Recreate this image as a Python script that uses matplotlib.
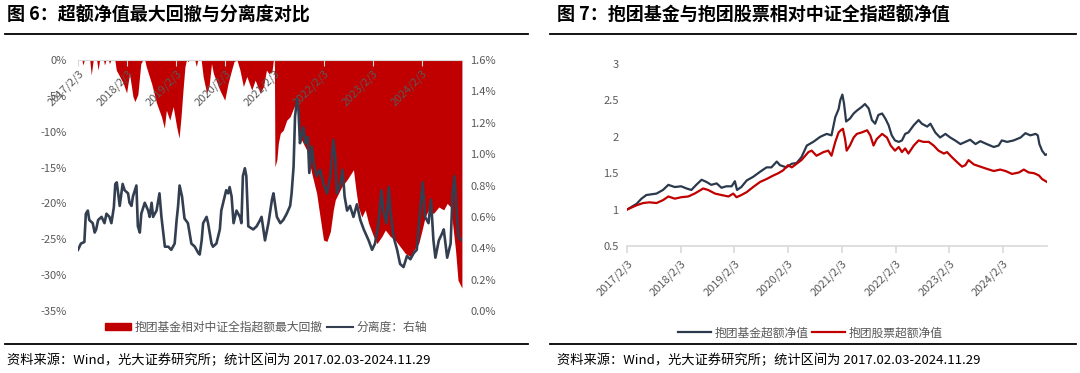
import matplotlib
matplotlib.use("Agg")
import matplotlib.pyplot as plt
from matplotlib.patches import Patch
from matplotlib.lines import Line2D
from matplotlib.ticker import FuncFormatter, MultipleLocator
import pandas as pd

plt.rcParams['font.family'] = ['Noto Sans CJK SC', 'DejaVu Sans']
plt.rcParams['axes.unicode_minus'] = False

# ---- 图6 数据：超额最大回撤(%)，时间为小数年 ----
dd_t = [2017.09, 2017.17, 2017.19, 2017.22, 2017.33, 2017.36, 2017.40, 2017.47, 2017.50, 2017.53,
        2017.61, 2017.63, 2017.66, 2017.71, 2017.73, 2017.76, 2017.84, 2017.87, 2017.94, 2018.01,
        2018.08, 2018.14, 2018.21, 2018.25, 2018.31, 2018.37, 2018.41, 2018.45, 2018.48, 2018.59,
        2018.69, 2018.79, 2018.85, 2018.89, 2018.96, 2019.03, 2019.10, 2019.15, 2019.19, 2019.23,
        2019.27, 2019.30, 2019.33, 2019.36, 2019.47, 2019.50, 2019.53, 2019.60, 2019.64, 2019.71,
        2019.76, 2019.81, 2019.85, 2019.98, 2020.08, 2020.15, 2020.22, 2020.27, 2020.33, 2020.39,
        2020.46, 2020.53, 2020.63, 2020.70, 2020.80, 2020.87, 2020.93, 2020.98, 2021.04, 2021.07,
        2021.09, 2021.10, 2021.14, 2021.17, 2021.21, 2021.27, 2021.34, 2021.41, 2021.48, 2021.55,
        2021.61, 2021.75, 2021.85, 2021.95, 2021.99, 2022.06, 2022.09, 2022.16, 2022.23, 2022.29,
        2022.33, 2022.46, 2022.57, 2022.70, 2022.75, 2022.80, 2022.87, 2022.94, 2023.01, 2023.11,
        2023.18, 2023.28, 2023.35, 2023.45, 2023.55, 2023.65, 2023.76, 2023.86, 2023.93, 2024.03,
        2024.10, 2024.16, 2024.23, 2024.33, 2024.44, 2024.54, 2024.61, 2024.68, 2024.72, 2024.78,
        2024.83, 2024.91]
dd_v = [0, 0, -0.7, 0, 0, -2.1, 0, 0, -1.4, 0,
        0, -0.7, 0, 0, -0.5, 0, 0, -1.4, -2.3, -3.2,
        -4.6, -1.9, -5.1, -5.8, -4.8, -0.5, 0, 0, -0.9, -3.3,
        -6.0, -7.9, -9.5, -7.0, -8.4, -6.5, -9.3, -10.9, -7.9, -4.2,
        -0.9, 0, -0.2, 0, 0, -0.9, 0, 0, -2.3, -4.6,
        -3.7, -0.5, -1.9, -4.2, -5.6, -3.2, -1.4, -0.2, 0, -1.4,
        -3.7, -2.3, -4.2, -2.8, -4.6, -3.7, -1.4, -1.9, -1.6, 0,
        0, -14.9, -13.9, -11.6, -10.2, -9.8, -8.4, -7.9, -6.7, -5.6,
        -10.7, -12.6, -15.8, -18.6, -20.5, -23.7, -25.1, -25.3, -23.9, -20.9,
        -19.5, -17.7, -16.7, -15.3, -18.1, -20.5, -21.9, -20.9, -22.8, -24.6,
        -25.6, -24.6, -23.7, -24.6, -25.1, -26.0, -27.0, -27.4, -26.5, -25.6,
        -23.7, -21.9, -20.9, -21.4, -20.5, -20.9, -20.0, -20.5, -22.8, -26.5,
        -30.7, -31.8]

# 分离度(%)
sep_t = [2017.09, 2017.15, 2017.22, 2017.25, 2017.29, 2017.32, 2017.39, 2017.43, 2017.46, 2017.50,
         2017.57, 2017.63, 2017.67, 2017.73, 2017.77, 2017.82, 2017.85, 2017.88, 2017.94, 2018.00,
         2018.04, 2018.11, 2018.14, 2018.18, 2018.21, 2018.28, 2018.31, 2018.35, 2018.38, 2018.45,
         2018.52, 2018.55, 2018.59, 2018.62, 2018.69, 2018.75, 2018.79, 2018.86, 2018.93, 2018.99,
         2019.06, 2019.10, 2019.13, 2019.16, 2019.21, 2019.26, 2019.33, 2019.40, 2019.47, 2019.54,
         2019.57, 2019.61, 2019.64, 2019.71, 2019.74, 2019.81, 2019.84, 2019.91, 2019.98, 2020.01,
         2020.08, 2020.11, 2020.15, 2020.18, 2020.22, 2020.26, 2020.32, 2020.39, 2020.42, 2020.45,
         2020.49, 2020.52, 2020.56, 2020.66, 2020.73, 2020.80, 2020.83, 2020.90, 2020.97, 2021.04,
         2021.07, 2021.14, 2021.21, 2021.27, 2021.34, 2021.41, 2021.44, 2021.48, 2021.51, 2021.55,
         2021.58, 2021.61, 2021.65, 2021.68, 2021.72, 2021.77, 2021.80, 2021.85, 2021.89, 2021.95,
         2022.02, 2022.09, 2022.16, 2022.23, 2022.29, 2022.33, 2022.36, 2022.43, 2022.48, 2022.52,
         2022.57, 2022.63, 2022.70, 2022.77, 2022.84, 2022.91, 2023.01, 2023.08, 2023.14, 2023.21,
         2023.27, 2023.31, 2023.37, 2023.42, 2023.45, 2023.52, 2023.59, 2023.65, 2023.72, 2023.79,
         2023.86, 2023.93, 2023.99, 2024.06, 2024.11, 2024.16, 2024.23, 2024.28, 2024.33, 2024.37,
         2024.44, 2024.50, 2024.54, 2024.61, 2024.68, 2024.72, 2024.76, 2024.80, 2024.84, 2024.91]
sep_v = [0.39, 0.43, 0.44, 0.62, 0.64, 0.58, 0.56, 0.50, 0.52, 0.58,
         0.60, 0.56, 0.62, 0.60, 0.56, 0.66, 0.81, 0.82, 0.67, 0.81,
         0.77, 0.75, 0.69, 0.67, 0.73, 0.80, 0.54, 0.50, 0.62, 0.69,
         0.64, 0.60, 0.69, 0.60, 0.64, 0.75, 0.60, 0.41, 0.41, 0.39,
         0.43, 0.58, 0.67, 0.80, 0.73, 0.59, 0.56, 0.43, 0.41, 0.37,
         0.36, 0.45, 0.56, 0.60, 0.56, 0.43, 0.41, 0.43, 0.52, 0.64,
         0.73, 0.77, 0.75, 0.79, 0.73, 0.56, 0.64, 0.60, 0.56, 0.86,
         0.91, 0.86, 0.54, 0.52, 0.54, 0.58, 0.60, 0.45, 0.56, 0.71,
         0.75, 0.60, 0.56, 0.58, 0.62, 0.67, 0.75, 0.92, 1.24, 1.35,
         1.28, 1.07, 1.13, 1.17, 1.07, 1.11, 0.88, 1.05, 0.94, 0.86,
         0.90, 0.81, 0.75, 0.86, 1.09, 0.98, 0.75, 0.81, 0.90, 0.73,
         0.64, 0.67, 0.60, 0.68, 0.58, 0.52, 0.45, 0.39, 0.43, 0.56,
         0.77, 0.64, 0.56, 0.79, 0.64, 0.47, 0.39, 0.30, 0.28, 0.35,
         0.33, 0.37, 0.39, 0.64, 0.82, 0.60, 0.56, 0.71, 0.45, 0.34,
         0.45, 0.49, 0.52, 0.34, 0.43, 0.75, 0.86, 0.64, 0.47, 0.45]

# ---- 图7 数据：超额净值 ----
fund_t = [2017.09, 2017.27, 2017.36, 2017.45, 2017.64, 2017.76, 2017.86, 2017.98, 2018.10, 2018.20,
          2018.29, 2018.38, 2018.48, 2018.57, 2018.66, 2018.76, 2018.85, 2018.94, 2019.04, 2019.10,
          2019.14, 2019.22, 2019.32, 2019.44, 2019.57, 2019.69, 2019.78, 2019.88, 2019.94, 2020.06,
          2020.16, 2020.25, 2020.34, 2020.44, 2020.56, 2020.69, 2020.81, 2020.90, 2020.97, 2021.03,
          2021.06, 2021.10, 2021.13, 2021.17, 2021.24, 2021.31, 2021.37, 2021.46, 2021.52, 2021.59,
          2021.65, 2021.71, 2021.77, 2021.84, 2021.90, 2021.96, 2022.02, 2022.08, 2022.15, 2022.21,
          2022.27, 2022.33, 2022.43, 2022.52, 2022.58, 2022.68, 2022.74, 2022.83, 2022.92, 2023.02,
          2023.11, 2023.20, 2023.30, 2023.39, 2023.48, 2023.58, 2023.67, 2023.79, 2023.92, 2024.01,
          2024.07, 2024.17, 2024.29, 2024.42, 2024.51, 2024.60, 2024.70, 2024.74, 2024.77, 2024.82,
          2024.88, 2024.91]
fund_v = [1.00, 1.08, 1.15, 1.20, 1.22, 1.27, 1.34, 1.31, 1.32, 1.29,
          1.27, 1.34, 1.41, 1.38, 1.34, 1.36, 1.30, 1.32, 1.32, 1.39,
          1.27, 1.31, 1.40, 1.45, 1.52, 1.58, 1.58, 1.66, 1.61, 1.58,
          1.63, 1.64, 1.72, 1.88, 1.93, 2.00, 2.04, 2.02, 2.27, 2.38,
          2.50, 2.58, 2.46, 2.21, 2.25, 2.32, 2.36, 2.41, 2.45, 2.39,
          2.23, 2.18, 2.30, 2.32, 2.25, 2.16, 2.02, 1.95, 1.93, 1.95,
          2.04, 2.06, 2.16, 2.23, 2.18, 2.14, 2.18, 2.06, 1.99, 2.04,
          1.99, 1.95, 1.90, 1.93, 1.96, 1.90, 1.94, 1.90, 1.86, 1.88,
          1.95, 1.93, 1.95, 1.99, 2.05, 2.02, 2.04, 2.02, 1.90, 1.81,
          1.75, 1.76]

stock_t = [2017.09, 2017.27, 2017.39, 2017.51, 2017.64, 2017.76, 2017.86, 2017.98, 2018.10, 2018.23,
           2018.35, 2018.51, 2018.60, 2018.73, 2018.85, 2018.98, 2019.07, 2019.13, 2019.22, 2019.32,
           2019.44, 2019.57, 2019.69, 2019.82, 2019.91, 2020.00, 2020.09, 2020.16, 2020.25, 2020.34,
           2020.47, 2020.53, 2020.62, 2020.75, 2020.84, 2020.90, 2020.97, 2021.03, 2021.07, 2021.11,
           2021.15, 2021.18, 2021.24, 2021.31, 2021.37, 2021.46, 2021.56, 2021.62, 2021.68, 2021.74,
           2021.84, 2021.93, 2022.00, 2022.08, 2022.15, 2022.21, 2022.27, 2022.33, 2022.43, 2022.52,
           2022.61, 2022.71, 2022.80, 2022.89, 2022.99, 2023.05, 2023.14, 2023.24, 2023.33, 2023.39,
           2023.45, 2023.55, 2023.67, 2023.79, 2023.92, 2024.04, 2024.14, 2024.26, 2024.39, 2024.48,
           2024.57, 2024.67, 2024.76, 2024.82, 2024.91]
stock_v = [1.00, 1.06, 1.09, 1.10, 1.09, 1.13, 1.18, 1.15, 1.17, 1.18,
           1.22, 1.29, 1.27, 1.22, 1.20, 1.18, 1.22, 1.17, 1.20, 1.24,
           1.31, 1.38, 1.42, 1.47, 1.50, 1.54, 1.61, 1.58, 1.63, 1.68,
           1.79, 1.81, 1.74, 1.79, 1.81, 1.74, 1.93, 2.06, 2.09, 2.11,
           1.97, 1.81, 1.88, 1.99, 2.04, 2.06, 2.09, 2.02, 1.88, 1.97,
           2.04, 1.99, 1.88, 1.81, 1.86, 1.79, 1.84, 1.77, 1.88, 1.95,
           1.93, 1.93, 1.88, 1.81, 1.77, 1.79, 1.72, 1.65, 1.59, 1.61,
           1.68, 1.62, 1.59, 1.56, 1.53, 1.55, 1.53, 1.49, 1.51, 1.55,
           1.51, 1.50, 1.47, 1.42, 1.38]

tick_dates = ['2017-02-03', '2018-02-03', '2019-02-03', '2020-02-03',
              '2021-02-03', '2022-02-03', '2023-02-03', '2024-02-03']
tick_labels = ['2017/2/3', '2018/2/3', '2019/2/3', '2020/2/3',
               '2021/2/3', '2022/2/3', '2023/2/3', '2024/2/3']
dd_labels = ['抱团基金相对中证全指超额最大回撤', '分离度：右轴']
nv_labels = ['抱团基金超额净值', '抱团股票超额净值']
start, end = pd.Timestamp('2017-02-03'), pd.Timestamp('2024-11-29')

RED = '#C00000'
NAVY = '#2B394D'
SLATE = '#333F50'
GRAY = '#595959'
LIGHT = '#d9d9d9'


def to_dates(ts):
    out = []
    for t in ts:
        y = int(t)
        out.append(pd.Timestamp(y, 1, 1) + pd.Timedelta(days=(t - y) * 365.25))
    return out


fig = plt.figure(figsize=(10.8, 3.73), dpi=100)

# 标题、分隔线、资料来源
fig.text(7 / 1080, 1 - 15 / 373, '图 6：超额净值最大回撤与分离度对比', fontsize=13, fontweight='bold', va='center')
fig.text(557 / 1080, 1 - 15 / 373, '图 7：抱团基金与抱团股票相对中证全指超额净值', fontsize=13, fontweight='bold', va='center')
for x0, x1 in [(5, 528), (550, 1076)]:
    for yy in (33.5, 344):
        fig.add_artist(Line2D([x0 / 1080, x1 / 1080], [1 - yy / 373] * 2, color='black', lw=1.3))
src = '资料来源：Wind，光大证券研究所；统计区间为 2017.02.03-2024.11.29'
fig.text(7 / 1080, 1 - 360 / 373, src, fontsize=9.5, va='center')
fig.text(557 / 1080, 1 - 360 / 373, src, fontsize=9.5, va='center')

# ---- 图6 ----
ax = fig.add_axes([78 / 1080, 1 - 311 / 373, 384 / 1080, 251 / 373])
ax.fill_between(to_dates(dd_t), dd_v, 0, color=RED, lw=0)
ax.set_ylim(-35, 0)
ax.set_xlim(start, end)
ax.yaxis.set_major_locator(MultipleLocator(5))
ax.yaxis.set_major_formatter(FuncFormatter(lambda v, p: f'{v:.0f}%'))
ax.spines['bottom'].set_position(('data', 0))
ax.spines['bottom'].set_color(LIGHT)
for s in ['top', 'left', 'right']:
    ax.spines[s].set_visible(False)
ax.set_xticks(pd.to_datetime(tick_dates))
ax.set_xticklabels(tick_labels, rotation=45, ha='right', rotation_mode='anchor',
                   color=GRAY, fontsize=8)
ax.tick_params(axis='x', color=LIGHT, length=4, pad=2)
ax.tick_params(axis='y', length=0, labelcolor=GRAY, labelsize=8, pad=8)

ax2 = ax.twinx()
ax2.plot(to_dates(sep_t), sep_v, color=SLATE, lw=1.9)
ax2.set_ylim(0, 1.6)
ax2.yaxis.set_major_locator(MultipleLocator(0.2))
ax2.yaxis.set_major_formatter(FuncFormatter(lambda v, p: f'{v:.1f}%'))
for s in ax2.spines.values():
    s.set_visible(False)
ax2.tick_params(axis='y', length=0, labelcolor=GRAY, labelsize=8, pad=6)

fig.legend(handles=[Patch(color=RED, label=dd_labels[0]),
                    Line2D([], [], color=SLATE, lw=1.5, label=dd_labels[1])],
           loc='center', bbox_to_anchor=(266 / 1080, 1 - 327 / 373), ncol=2, frameon=False,
           fontsize=8.5, labelcolor=GRAY, handlelength=2.2, handleheight=0.6, handletextpad=0.3,
           columnspacing=0.4)

# ---- 图7 ----
bx = fig.add_axes([627 / 1080, 1 - 246 / 373, 420 / 1080, 182 / 373])
bx.plot(to_dates(fund_t), fund_v, color=NAVY, lw=1.6, label=nv_labels[0])
bx.plot(to_dates(stock_t), stock_v, color=RED, lw=1.6, label=nv_labels[1])
bx.set_ylim(0.5, 3)
bx.set_xlim(start, end)
bx.yaxis.set_major_locator(MultipleLocator(0.5))
bx.yaxis.set_major_formatter(FuncFormatter(lambda v, p: f'{v:g}'))
for s in ['top', 'left', 'right']:
    bx.spines[s].set_visible(False)
bx.spines['bottom'].set_color(LIGHT)
bx.spines['bottom'].set_linewidth(1.2)
bx.set_xticks(pd.to_datetime(tick_dates))
bx.set_xticklabels(tick_labels, rotation=45, ha='right', rotation_mode='anchor',
                   color=GRAY, fontsize=8)
bx.tick_params(axis='x', color=LIGHT, length=5, width=1.2, pad=4)
bx.tick_params(axis='y', length=0, labelcolor=GRAY, labelsize=8, pad=6)

fig.legend(handles=bx.get_lines(), loc='center', bbox_to_anchor=(810 / 1080, 1 - 333 / 373), ncol=2,
           frameon=False, fontsize=8.5, labelcolor=GRAY, handlelength=2.8, handletextpad=0.3,
           columnspacing=0.3)

fig.savefig('out.png', dpi=100)
